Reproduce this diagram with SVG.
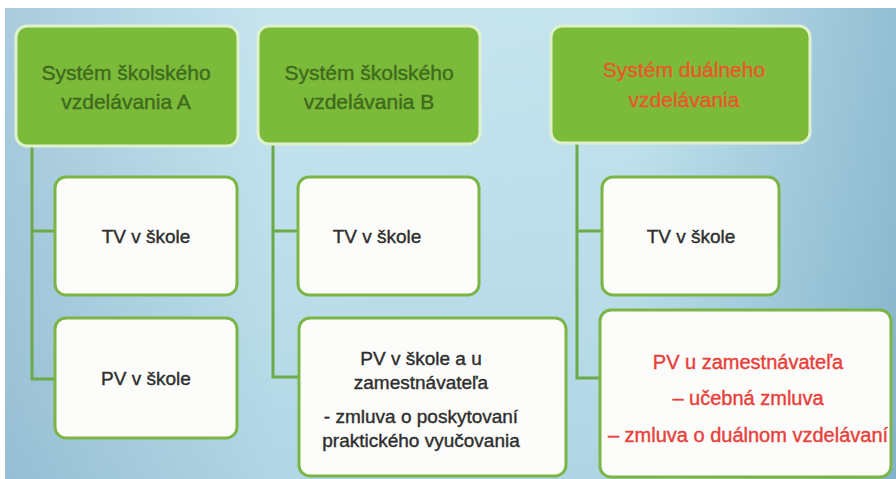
<svg xmlns="http://www.w3.org/2000/svg" width="896" height="479" viewBox="0 0 896 479">
<defs>
<linearGradient id="bg" x1="0" y1="0" x2="1" y2="0">
<stop offset="0" stop-color="#a0c6da"/>
<stop offset="0.3" stop-color="#bfe2ed"/>
<stop offset="0.7" stop-color="#bde1ec"/>
<stop offset="1" stop-color="#88b8cf"/>
</linearGradient>
<linearGradient id="bgv" x1="0" y1="0" x2="0" y2="1">
<stop offset="0" stop-color="#ffffff" stop-opacity="0.1"/>
<stop offset="1" stop-color="#5d8fb0" stop-opacity="0.15"/>
</linearGradient>
<style>
.hdr{fill:#7cba3a;stroke:#dff1cc;stroke-width:3}
.box{fill:#fcfdfa;stroke:#7ab546;stroke-width:3}
.con{fill:none;stroke:#6ca947;stroke-width:3}
text{font-family:"Liberation Sans",Arial,sans-serif;text-anchor:middle;stroke-width:0.4}
.ht{font-size:21px;fill:#3f6b1d;stroke:#3f6b1d}
.hr{font-size:21px;fill:#e8582a;stroke:#e8582a}
.bt{font-size:19px;fill:#2e2e2e;stroke:#2e2e2e}
.rt{font-size:20px;fill:#e8403a;stroke:#e8403a}
</style>
</defs>
<rect x="0" y="0" width="896" height="479" fill="#ffffff"/>
<rect x="5" y="8" width="891" height="471" fill="url(#bg)"/>
<rect x="5" y="8" width="891" height="471" fill="url(#bgv)"/>

<g id="connectors">
<path class="con" d="M32,146 V379 H56 M32,231 H56"/>
<path class="con" d="M273,144 V377 H299 M273,231 H299"/>
<path class="con" d="M577,143 V378 H601 M577,231 H603"/>
</g>

<g id="header-a">
<rect class="hdr" x="16" y="26" width="222" height="120" rx="11"/>
<text class="ht" x="126" y="80">Systém školského</text>
<text class="ht" x="126" y="109">vzdelávania A</text>
</g>
<g id="header-b">
<rect class="hdr" x="258" y="26" width="222" height="118" rx="11"/>
<text class="ht" x="369" y="80">Systém školského</text>
<text class="ht" x="369" y="109">vzdelávania B</text>
</g>
<g id="header-c">
<rect class="hdr" x="551" y="26" width="259" height="117" rx="11"/>
<text class="hr" x="684" y="77">Systém duálneho</text>
<text class="hr" x="684" y="107">vzdelávania</text>
</g>

<g id="tv-a">
<rect class="box" x="55" y="177" width="182" height="118" rx="11"/>
<text class="bt" x="146" y="243">TV v škole</text>
</g>
<g id="pv-a">
<rect class="box" x="55" y="318" width="182" height="120" rx="11"/>
<text class="bt" x="146" y="385">PV v škole</text>
</g>
<g id="tv-b">
<rect class="box" x="298" y="177" width="181" height="118" rx="11"/>
<text class="bt" x="377" y="243">TV v škole</text>
</g>
<g id="pv-b">
<rect class="box" x="299" y="318" width="267" height="158" rx="11"/>
<text class="bt" x="421" y="365">PV v škole a u</text>
<text class="bt" x="421" y="389">zamestnávateľa</text>
<text class="bt" x="421" y="423">- zmluva o poskytovaní</text>
<text class="bt" x="421" y="447">praktického vyučovania</text>
</g>
<g id="tv-c">
<rect class="box" x="602" y="177" width="177" height="118" rx="11"/>
<text class="bt" x="691" y="243">TV v škole</text>
</g>
<g id="pv-c">
<rect class="box" x="600" y="310" width="291" height="167" rx="11"/>
<text class="rt" x="748" y="369">PV u zamestnávateľa</text>
<text class="rt" x="748" y="405">– učebná zmluva</text>
<text class="rt" x="748" y="442">– zmluva o duálnom vzdelávaní</text>
</g>
</svg>
